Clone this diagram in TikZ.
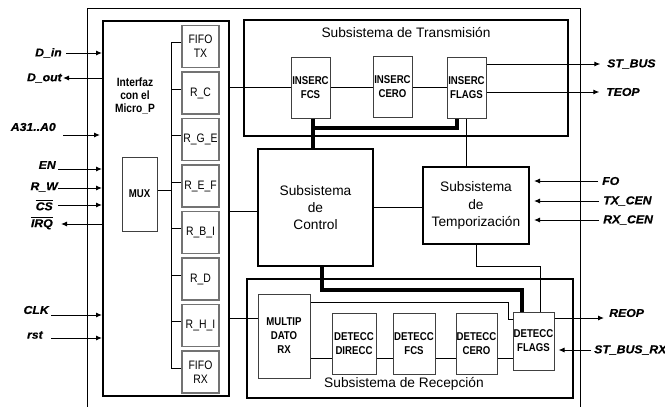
\documentclass[tikz,border=0pt]{standalone}
\usepackage{fontspec}
\setmainfont{Liberation Sans}
\newfontfamily\narrowf[FakeStretch=0.85]{Liberation Sans}
\newfontfamily\sigfont[FakeStretch=1.08,FakeBold=0.6]{Liberation Sans}
\usetikzlibrary{arrows.meta}
\begin{document}
\begin{tikzpicture}[x=0.75pt,y=-0.75pt,
  sz/.style 2 args={minimum width=#1*0.75pt,minimum height=#2*0.75pt},
  thinl/.style={line width=0.75pt},
  sig/.style={line width=0.75pt,-{Latex[length=4.5pt,width=3.8pt]}},
  busl/.style={line width=3pt},
  frm/.style={draw,line width=1.5pt,inner sep=0pt},
  reg/.style={draw=black!55,line width=1pt,inner sep=0pt,align=center,sz={37}{42},
    font=\narrowf\fontsize{9.2}{10.5}\selectfont},
  blk/.style={draw=black!75,line width=0.75pt,inner sep=0pt,align=center,
    font=\narrowf\bfseries\fontsize{8.5}{10.5}\selectfont},
  subs/.style={draw,line width=1.5pt,inner sep=0pt,align=center,
    font=\fontsize{10.3}{12.8}\selectfont},
  ttl/.style={inner sep=0pt,font=\fontsize{10.3}{12.8}\selectfont},
  slab/.style={inner sep=0pt,font=\sigfont\bfseries\itshape\fontsize{8.5}{10}\selectfont},
]
\useasboundingbox (0,0) rectangle (665,407);

% outer frame, open at the bottom
\draw[thinl] (87,407) -- (87,8) -- (580,8) -- (580,407);

% ---------- microprocessor interface ----------
\node[frm,sz={126}{375}] (ifz) at (166,208.5) {};
\node[inner sep=0pt,align=center,font=\narrowf\bfseries\fontsize{9}{9.75}\selectfont]
  (ifzt) at (135,96) {Interfaz\\con el\\Micro\_P};

\node[reg] (r1) at (200.5,46.5) {FIFO\\TX};
\node[reg] (r2) at (200.5,93)   {R\_C};
\node[reg] (r3) at (200.5,139.5){R\_G\_E};
\node[reg] (r4) at (200.5,186)  {R\_E\_F};
\node[reg] (r5) at (200.5,232.5){R\_B\_I};
\node[reg] (r6) at (200.5,279)  {R\_D};
\node[reg] (r7) at (200.5,325.5){R\_H\_I};
\node[reg] (r8) at (200.5,372)  {FIFO\\RX};

\node[draw=black!75,line width=0.75pt,inner sep=0pt,sz={35}{74},
  font=\narrowf\bfseries\fontsize{8.5}{10}\selectfont] (mux) at (139.5,194) {MUX};

% internal register bus
\coordinate (busx) at (171,0);
\foreach \i in {1,...,8}{
  \coordinate (s\i) at ([yshift=3pt]r\i.west);
  \draw[thinl] (s\i) -- (s\i -| busx);
}
\draw[thinl] (s1 -| busx) -- (s8 -| busx);
\coordinate (smux) at ([yshift=3pt]mux.east);
\draw[thinl] (smux) -- (smux -| busx);

% ---------- external signals, left ----------
\node[slab,anchor=east] (ldin)  at (62,53)  {D\_in};
\node[slab,anchor=east] (ldout) at (62,78)  {D\_out};
\node[slab,anchor=east] (laddr) at (56,127) {A31..A0};
\node[slab,anchor=east] (len)   at (56,165) {EN};
\node[slab,anchor=east] (lrw)   at (58,187) {R\_W};
\node[slab,anchor=east] (lcs)   at (53,205) {$\overline{\mbox{CS}}$};
\node[slab,anchor=east] (lirq)  at (53,223) {$\overline{\mbox{IRQ}}$};
\node[slab,anchor=east] (lclk)  at (49,310) {CLK};
\node[slab,anchor=east] (lrst)  at (43,335) {rst};

\coordinate (cdin)  at (66,53);
\coordinate (cdout) at (63,78);
\coordinate (caddr) at (63,135);
\coordinate (cen)   at (58,169);
\coordinate (crw)   at (58,188);
\coordinate (ccs)   at (58,205);
\coordinate (cirq)  at (61,224);
\coordinate (cclk)  at (51,315);
\coordinate (crst)  at (51,338);

\draw[sig] (cdin) -- (cdin -| ifz.west);
\draw[sig] (cdout -| ifz.west) -- (cdout);
\draw[sig,shorten >=1.5pt] (caddr) -- (caddr -| ifz.west);
\draw[sig] (cen) -- (cen -| ifz.west);
\draw[sig] (crw) -- (crw -| ifz.west);
\draw[sig] (ccs) -- (ccs -| ifz.west);
\draw[sig] (cirq -| ifz.west) -- (cirq);
\draw[sig] (cclk) -- (cclk -| ifz.west);
\draw[sig] (crst) -- (crst -| ifz.west);

% ---------- transmission subsystem ----------
\node[frm,sz={324}{116}] (tx) at (406,78) {};
\node[ttl] (txt) at (406,33) {Subsistema de Transmisión};
\node[blk,sz={39}{61}] (ifcs)   at (310.5,87.5) {INSERC\\FCS};
\node[blk,sz={39}{61}] (icero)  at (392.5,87)   {INSERC\\CERO};
\node[blk,sz={39}{61}] (iflags) at (466.5,87.5) {INSERC\\FLAGS};

\draw[thinl] (ifz.east |- ifcs.west) -- (ifcs.west);
\draw[thinl] (ifcs.east) -- (ifcs.east -| icero.west);
\draw[thinl] (icero.east) -- (icero.east -| iflags.west);

\node[slab,anchor=west] (lstbus) at (607,64) {ST\_BUS};
\node[slab,anchor=west] (lteop)  at (606,92) {TEOP};
\draw[sig] (iflags.east |- lstbus.west) -- ([xshift=-5pt]lstbus.west);
\draw[sig] (iflags.east |- lteop.west) -- ([xshift=-5pt]lteop.west);

% ---------- control and timing ----------
\node[subs,sz={115}{117}] (ctrl) at (315.5,207.5) {Subsistema\\de\\Control};
\node[subs,sz={106}{77}]  (temp) at (476,205.5) {Subsistema\\de\\Temporización};

\draw[thinl] (ifz.east |- 0,211) -- (ctrl.west |- 0,211);
\draw[thinl] (ctrl.east) -- (ctrl.east -| temp.west);
\draw[thinl] (iflags.south) -- (iflags.south |- temp.north);

\draw[busl] ([xshift=2pt]ifcs.south) -- ([xshift=2pt]ifcs.south |- ctrl.north);
\draw[busl] ([xshift=2pt]ifcs.south) ++(0,9) -| ([xshift=-7.5pt]iflags.south);

\node[slab,anchor=west] (lfo)  at (602,181) {FO};
\node[slab,anchor=west] (ltxc) at (603,201) {TX\_CEN};
\node[slab,anchor=west] (lrxc) at (603,220) {RX\_CEN};
\draw[sig,shorten >=3pt] ([xshift=-3pt]lfo.west)  -- (temp.east |- lfo.west);
\draw[sig,shorten >=3pt] ([xshift=-3pt]ltxc.west) -- (temp.east |- ltxc.west);
\draw[sig,shorten >=3pt] ([xshift=-3pt]lrxc.west) -- (temp.east |- lrxc.west);

% ---------- reception subsystem ----------
\node[frm,sz={326}{119}] (rx) at (410,338.5) {};
\node[ttl] (rxt) at (404,384) {Subsistema de Recepción};
\node[blk,sz={52}{84}] (multip) at (284,336)     {MULTIP\\DATO\\RX};
\node[blk,sz={44}{61}] (ddir)   at (354,343.5)   {DETECC\\DIRECC};
\node[blk,sz={42}{61}] (dfcs)   at (414,343.5)   {DETECC\\FCS};
\node[blk,sz={41}{61}] (dcero)  at (476.5,343.5) {DETECC\\CERO};
\node[blk,sz={41}{58}] (dflags) at (533.5,341)   {DETECC\\FLAGS};

\draw[thinl] (ifz.east |- 0,318) -- (multip.west |- 0,318);
\coordinate (rxl) at (0,358);
\draw[thinl] (multip.east |- rxl) -- (ddir.west |- rxl);
\draw[thinl] (ddir.east |- rxl) -- (dfcs.west |- rxl);
\draw[thinl] (dfcs.east |- rxl) -- (dcero.west |- rxl);
\draw[thinl] (dcero.east |- rxl) -- (dflags.west |- rxl);

\coordinate (mk) at (508,302);
\coordinate (mk2) at (0,319);
\draw[thinl] (mk -| multip.east) -- (mk) -- (mk |- mk2) -- (dflags.west |- mk2);

\draw[thinl] (temp.south) -- ++(0,21) -| ([xshift=5pt]dflags.north);
\draw[busl] ([xshift=5pt]ctrl.south) -- ++(0,23) -| ([xshift=-8.5pt]dflags.north);

\node[slab,anchor=west] (lreop) at (609,313) {REOP};
\node[slab,anchor=west] (lstrx) at (594,350) {ST\_BUS\_RX};
\coordinate (creop) at (604,318);
\draw[sig] (dflags.east |- creop) -- (creop);
\draw[sig,shorten >=3pt] ([xshift=-2pt]lstrx.west) -- (dflags.east |- lstrx.west);
\end{tikzpicture}
\end{document}
